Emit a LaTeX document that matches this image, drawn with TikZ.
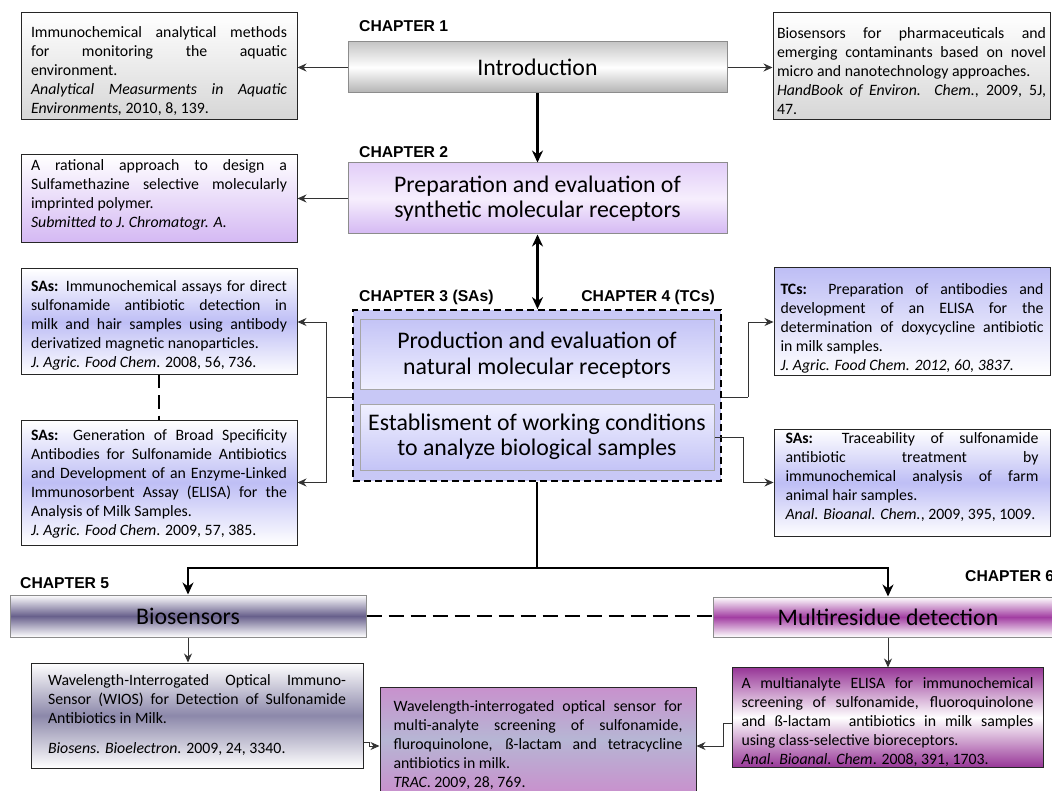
\documentclass[tikz,border=0pt]{standalone}
\usepackage{fontspec}
\setmainfont{Carlito}
\newfontfamily\chapfont{Liberation Sans}
\usepackage{tikz}
\usetikzlibrary{calc, positioning, arrows.meta}
\usepackage{xcolor}
\definecolor{greyT}{RGB}{198, 198, 198}
\definecolor{greyB}{RGB}{178, 178, 178}
\definecolor{greyL}{RGB}{214, 214, 214}
\definecolor{lilacT}{RGB}{226, 206, 248}
\definecolor{lilacM}{RGB}{246, 238, 253}
\definecolor{lilacB}{RGB}{212, 184, 243}
\definecolor{periw}{RGB}{200, 200, 246}
\definecolor{periwM}{RGB}{190, 190, 245}
\definecolor{innerT}{RGB}{196, 196, 246}
\definecolor{innerB}{RGB}{240, 240, 255}
\definecolor{slate}{RGB}{104, 96, 140}
\definecolor{slateL}{RGB}{140, 136, 170}
\definecolor{magM}{RGB}{162, 62, 162}
\definecolor{plum}{RGB}{152, 56, 152}
\definecolor{tracT}{RGB}{200, 145, 205}
\definecolor{tracM}{RGB}{182, 182, 212}
\setlength{\parindent}{0pt}
\tolerance=10000
\hyphenpenalty=10000

\begin{document}
\begin{tikzpicture}[x=1pt, y=-1pt,
  chapbox/.style={draw=black!45, line width=1pt, minimum width=379pt, inner sep=0pt,
                  font=\fontsize{23.8}{25.5}\selectfont, align=center},
  refbox/.style={draw=black!85, line width=1pt, inner xsep=0pt, inner ysep=0pt,
                 font=\fontsize{15.8}{19}\selectfont, align=justify},
  leftref/.style={refbox, minimum width=276pt, text width=256pt},
  toppad/.style={execute at begin node={\rule{0pt}{#1}}},
  botpad/.style={execute at end node={\rule[-#1]{0pt}{0pt}}},
  chaplabel/.style={font=\chapfont\bfseries\fontsize{15.7}{18}\selectfont,
                    anchor=west, inner sep=0pt},
  link/.style={-{Stealth[length=9pt, width=8pt]}, black!80, line width=0.9pt},
  wire/.style={black!80, line width=0.9pt},
  flow/.style={-{Stealth[length=12pt, width=11pt]}, line width=2.6pt},
  duo/.style={{Stealth[length=12pt, width=11pt]}-{Stealth[length=12pt, width=11pt]},
              line width=2.6pt},
  bond/.style={line width=2.6pt, dash pattern=on 13pt off 7pt}
]
  \useasboundingbox (0,0) rectangle (1052,791);
  \clip (0,0) rectangle (1052,791);

  % ── chapter 1 ──
  \node[chaplabel] (lab1) at (359,26) {CHAPTER 1};
  \node[chapbox, minimum height=51pt, top color=greyT, bottom color=greyB,
        middle color=white] (intro) at (537.5,67.5) {Introduction};
  \node[leftref, toppad=20pt, minimum height=107pt, top color=white, bottom color=greyL]
    (immAq) at (159,66.5)
    {Immunochemical analytical methods \linebreak for monitoring the aquatic
     \linebreak environment.\par
     \textit{Analytical Measurments in Aquatic \linebreak Environments,} 2010, 8, 139.};
  \node[refbox, toppad=21pt, minimum width=277pt, text width=269pt, minimum height=107pt,
        top color=white, bottom color=greyL] (bioPh) at (911.5,66.5)
    {Biosensors for pharmaceuticals and \linebreak emerging contaminants based on
     novel \linebreak micro and nanotechnology approaches.\par
     \textit{HandBook of Environ. Chem.}, 2009, 5J, \linebreak 47.};
  \draw[link] (intro.west) -- (intro.west -| immAq.east);
  \draw[link] (intro.east) -- (intro.east -| bioPh.west);

  % ── chapter 2 ──
  \node[chaplabel] (lab2) at (359,152) {CHAPTER 2};
  \node[chapbox, minimum height=71pt, top color=lilacT, bottom color=lilacB,
        middle color=lilacM] (prep) at (537.5,198.5)
    {Preparation and evaluation of\\synthetic molecular receptors};
  \node[leftref, botpad=10pt, minimum height=88pt, top color=white, bottom color=lilacB]
    (mipRef) at (159,199)
    {A rational approach to design a \linebreak Sulfamethazine selective
     molecularly \linebreak imprinted polymer.\par
     \textit{Submitted to J. Chromatogr. A.}};
  \draw[flow] (intro.south) -- (prep.north);
  \draw[link] (prep.west) -- (prep.west -| mipRef.east);

  % ── chapters 3 and 4 ──
  \node[chaplabel] (lab3) at (359,297) {CHAPTER 3 (SAs)};
  \node[chaplabel, anchor=east] (lab4) at (715,297) {CHAPTER 4 (TCs)};
  \node[draw, fill=periw, line width=1.8pt, dash pattern=on 7pt off 4pt,
        minimum width=368pt, minimum height=171pt] (cnt) at (537,395.5) {};
  \node[chapbox, draw=black!35, minimum width=354pt, minimum height=70pt,
        top color=innerT, bottom color=innerB] (nat) at (537,355)
    {Production and evaluation of\\natural molecular receptors};
  \node[chapbox, draw=black!35, minimum width=354pt, minimum height=66pt,
        top color=innerB, bottom color=innerT] (est) at (537,437)
    {Establisment of working conditions\\to analyze biological samples};
  \draw[duo] (prep.south) -- (prep.south |- cnt.north);

  \node[leftref, toppad=18pt, minimum height=106pt, top color=white, bottom color=white,
        middle color=periwM] (saMag) at (159,322)
    {\textbf{SAs:} Immunochemical assays for direct \linebreak sulfonamide antibiotic
     detection in \linebreak milk and hair samples using antibody \linebreak
     derivatized magnetic nanoparticles.\par
     \textit{J. Agric. Food Chem}. 2008, 56, 736.};
  \node[leftref, toppad=14pt, minimum height=125pt, top color=white, bottom color=white,
        middle color=periwM] (saBroad) at (159,482.5)
    {\textbf{SAs:} Generation of Broad Specificity \linebreak Antibodies for
     Sulfonamide Antibiotics \linebreak and Development of an Enzyme-Linked
     \linebreak Immunosorbent Assay (ELISA) for the \linebreak Analysis of Milk
     Samples.\par
     \textit{J. Agric. Food Chem}. 2009, 57, 385.};
  \draw[bond] (saMag.south) -- (saBroad.north);
  \coordinate (split3) at (326,397);
  \draw[wire] (cnt.west |- split3) -- (split3);
  \draw[link] (split3) |- (saMag.east);
  \draw[link] (split3) |- (saBroad.east);

  \node[refbox, toppad=24pt, minimum width=276pt, text width=263pt, minimum height=108pt,
        top color=periwM, bottom color=white] (tcDoxy) at (912,322)
    {\textbf{TCs:} Preparation of antibodies and \linebreak development of an ELISA
     for the \linebreak determination of doxycycline antibiotic \linebreak in milk
     samples.\par
     \textit{J. Agric. Food Chem. 2012, 60, 3837.}};
  \node[refbox, botpad=13pt, minimum width=276pt, text width=253pt, minimum height=107pt,
        top color=white, bottom color=white, middle color=periwM]
    (saHair) at (912,482.5)
    {\textbf{SAs:} Traceability of sulfonamide \linebreak antibiotic treatment by
     \linebreak immunochemical analysis of farm \linebreak animal hair samples.\par
     \textit{Anal. Bioanal. Chem.}, 2009, 395, 1009.};
  \coordinate (split4) at (748,397);
  \draw[wire] (cnt.east |- split4) -- (split4);
  \draw[link] (split4) |- (tcDoxy.west);
  \coordinate (bend4) at (743,437);
  \draw[link] (est.east) -- (bend4) |- (saHair.west);

  % ── chapters 5 and 6 ──
  \node[chaplabel] (lab5) at (20,583) {CHAPTER 5};
  \node[chaplabel] (lab6) at (965,576) {CHAPTER 6};
  \node[chapbox, minimum width=356pt, minimum height=42pt, top color=white,
        bottom color=white, middle color=slate] (bios) at (188,616) {Biosensors};
  \node[chapbox, minimum width=350pt, minimum height=40pt, top color=white,
        bottom color=white, middle color=magM] (multi) at (888,617)
    {Multiresidue detection};
  \coordinate (fork) at (537,568);
  \draw[flow] (cnt.south) -- (fork) -| (bios.north);
  \draw[flow] (fork) -| (multi.north);
  \draw[bond, dash pattern=on 15pt off 7pt] (bios.east) -- (bios.east -| multi.west);

  \node[refbox, minimum width=332pt, text width=298pt, minimum height=105pt,
        top color=white, bottom color=white, middle color=slateL]
    (wios) at (197,715.5)
    {Wavelength-Interrogated Optical Immuno-\linebreak Sensor (WIOS) for Detection
     of Sulfonamide \linebreak Antibiotics in Milk.\par\vspace{11pt}
     \textit{Biosens. Bioelectron.} 2009, 24, 3340.};
  \node[refbox, toppad=22pt, minimum width=316pt, text width=289pt, minimum height=105pt,
        top color=tracT, bottom color=tracT, middle color=tracM]
    (trac) at (538,739.5)
    {Wavelength-interrogated optical sensor for \linebreak multi-analyte screening
     of sulfonamide, \linebreak fluroquinolone, ß-lactam and tetracycline
     \linebreak antibiotics in milk.\par
     \textit{TRAC}. 2009, 28, 769.};
  \node[refbox, toppad=21pt, minimum width=311pt, text width=292pt, minimum height=99pt,
        top color=plum, bottom color=plum, middle color=white]
    (elisa) at (887.5,717.5)
    {A multianalyte ELISA for immunochemical \linebreak screening of sulfonamide,
     fluoroquinolone \linebreak and ß-lactam\ \ antibiotics in milk samples
     \linebreak using class-selective bioreceptors.\par
     \textit{Anal. Bioanal. Chem}. 2008, 391, 1703.};
  \draw[link] (bios.south) -- (bios.south |- wios.north);
  \draw[link] (multi.south) -- (multi.south |- elisa.north);
  \coordinate (bendW) at (369,742);
  \draw[link] (wios.east |- bendW) -- (bendW) |- ([yshift=-6.5pt]trac.west);
  \coordinate (bendE) at (723,723);
  \draw[link] (elisa.west |- bendE) -- (bendE) |- ([yshift=-6.5pt]trac.east);
\end{tikzpicture}
\end{document}
